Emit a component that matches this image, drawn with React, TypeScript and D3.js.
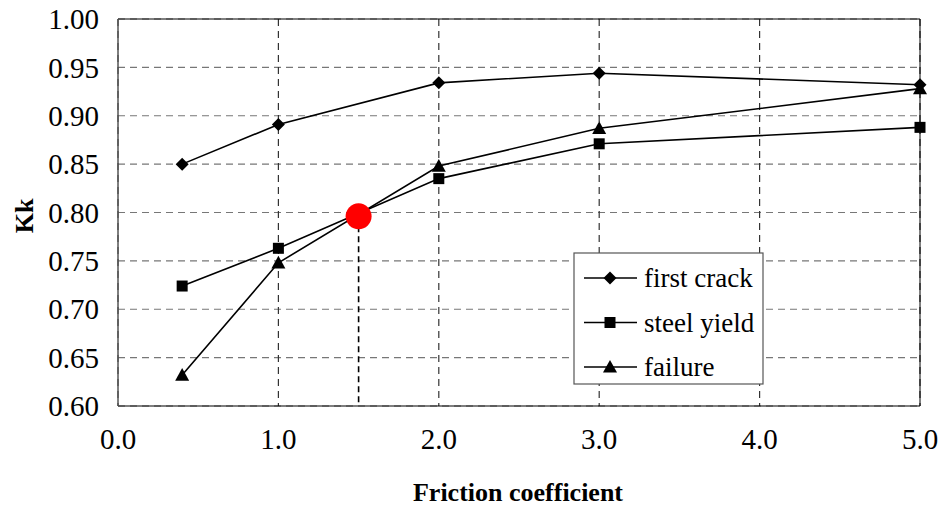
import React from "react";
import * as d3 from "d3";

const xValues = [0.4, 1.0, 2.0, 3.0, 5.0];
const firstCrack = [0.850, 0.891, 0.934, 0.944, 0.932];
const steelYield = [0.724, 0.763, 0.835, 0.871, 0.888];
const failure = [0.632, 0.748, 0.848, 0.887, 0.928];
const seriesNames = ["first crack", "steel yield", "failure"];
const xTicks = [0, 1, 2, 3, 4, 5];
const yTicks = [0.6, 0.65, 0.7, 0.75, 0.8, 0.85, 0.9, 0.95, 1.0];
const highlight = { x: 1.5, y: 0.796 };

const W = 939, H = 507;
const L = 118, R = 920, T = 19, B = 406;

function Marker({ type, x, y }: { type: string; x: number; y: number }) {
  if (type === "diamond") {
    const s = 6.5;
    return <path d={`M${x},${y - s}L${x + s},${y}L${x},${y + s}L${x - s},${y}Z`} fill="#000" />;
  }
  if (type === "square") {
    const s = 5.5;
    return <rect x={x - s} y={y - s} width={2 * s} height={2 * s} fill="#000" />;
  }
  const s = 7;
  return <path d={`M${x},${y - s}L${x + s},${y + s * 0.8}L${x - s},${y + s * 0.8}Z`} fill="#000" />;
}

export default function App() {
  const x = d3.scaleLinear().domain([0, 5]).range([L, R]);
  const y = d3.scaleLinear().domain([0.6, 1.0]).range([B, T]);
  const line = d3.line<[number, number]>().x((d) => x(d[0])).y((d) => y(d[1]));
  const series = [
    { name: seriesNames[0], vals: firstCrack, m: "diamond" },
    { name: seriesNames[1], vals: steelYield, m: "square" },
    { name: seriesNames[2], vals: failure, m: "triangle" },
  ];
  const font = '"Times New Roman", "Liberation Serif", Tinos, "DejaVu Serif", "Noto Serif", serif';
  const legX = 574, legY = 253, legW = 189, legH = 131;
  return (
    <svg width={W} height={H} style={{ position: "absolute", left: 0, top: 0, background: "#fff" }}>
      <rect x={0} y={0} width={W} height={H} fill="#fff" />
      {yTicks.map((t) => (
        <line key={"h" + t} x1={L} x2={R} y1={y(t)} y2={y(t)} stroke="#777" strokeWidth={1.2} strokeDasharray="7,5" />
      ))}
      {xTicks.map((t) => (
        <line key={"v" + t} x1={x(t)} x2={x(t)} y1={T} y2={B} stroke="#333" strokeWidth={1.2} strokeDasharray="7,5" />
      ))}
      <line x1={L} x2={R} y1={T} y2={T} stroke="#000" strokeWidth={1} />
      <line x1={L} x2={R} y1={B} y2={B} stroke="#000" strokeWidth={1.2} />
      <line x1={L} x2={L} y1={T} y2={B} stroke="#555" strokeWidth={1.5} />
      <line x1={R} x2={R} y1={T} y2={B} stroke="#000" strokeWidth={1} />
      {series.map((s) => (
        <g key={s.name}>
          <path d={line(xValues.map((v, i) => [v, s.vals[i]] as [number, number])) || ""} fill="none" stroke="#000" strokeWidth={1.6} />
          {xValues.map((v, i) => (
            <Marker key={i} type={s.m} x={x(v)} y={y(s.vals[i])} />
          ))}
        </g>
      ))}
      <line x1={x(highlight.x)} x2={x(highlight.x)} y1={y(highlight.y)} y2={B} stroke="#000" strokeWidth={1.6} strokeDasharray="6,4" />
      <circle cx={x(highlight.x)} cy={y(highlight.y)} r={13} fill="#ff0000" />
      <rect x={legX} y={legY} width={legW} height={legH} fill="#fff" stroke="#555" strokeWidth={1.2} />
      {series.map((s, i) => {
        const cy = legY + 25 + i * 44.5;
        return (
          <g key={"leg" + s.name}>
            <line x1={584} x2={637} y1={cy} y2={cy} stroke="#000" strokeWidth={1.6} />
            <Marker type={s.m} x={610} y={cy} />
          </g>
        );
      })}
      <g style={{ fontFamily: font }}>
        {yTicks.map((t) => (
          <text key={"yt" + t} x={99} y={y(t)} dy="0.35em" textAnchor="end" style={{ fontSize: "29px" }} fill="#000">
            {t.toFixed(2)}
          </text>
        ))}
        {xTicks.map((t) => (
          <text key={"xt" + t} x={x(t)} y={449} textAnchor="middle" style={{ fontSize: "29px" }} fill="#000">
            {t.toFixed(1)}
          </text>
        ))}
        <text x={518} y={501} textAnchor="middle" fontSize={26} fontWeight="bold" fill="#000">
          Friction coefficient
        </text>
        <text transform={`translate(33,216) rotate(-90)`} textAnchor="middle" fontSize={26} fontWeight="bold" fill="#000">
          Kk
        </text>
        {series.map((s, i) => (
          <text key={"lt" + i} x={644} y={legY + 25 + i * 44.5} dy="0.35em" fontSize={27} fill="#000">
            {s.name}
          </text>
        ))}
      </g>
    </svg>
  );
}
